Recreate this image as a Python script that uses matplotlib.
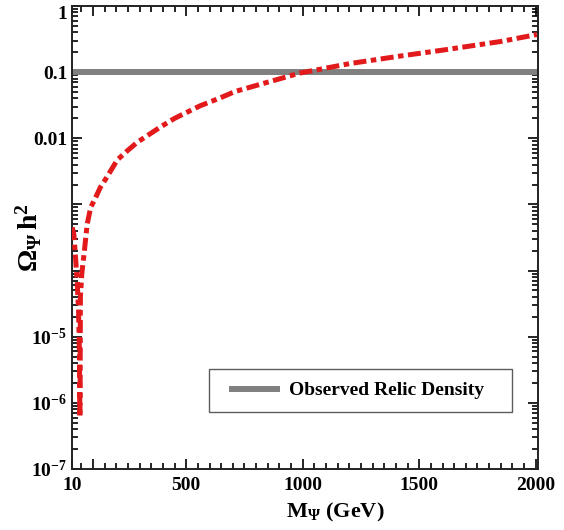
import numpy as np
import matplotlib.pyplot as plt
from matplotlib.ticker import FixedLocator, FixedFormatter, LogLocator, NullFormatter
from matplotlib.legend_handler import HandlerLine2D
from matplotlib.lines import Line2D

plt.rcParams['font.family'] = 'Liberation Serif'
plt.rcParams['font.weight'] = 'bold'
plt.rcParams['mathtext.fontset'] = 'custom'
plt.rcParams['mathtext.rm'] = 'Liberation Serif:bold'
plt.rcParams['mathtext.it'] = 'Liberation Serif:bold'
plt.rcParams['mathtext.bf'] = 'Liberation Serif:bold'

# relic density vs dark matter mass
mass = [11, 18, 25, 32, 38, 42, 43.5, 44.5, 46, 52, 61, 75, 90, 111, 131, 160, 204,
        250, 290, 388, 450, 530, 560, 640, 710, 847, 989, 1204, 1418, 1600, 1848, 2005]
omega = [4.5e-4, 3.5e-4, 1.6e-4, 7e-5, 2.5e-5, 5e-6, 6e-7, 1e-6, 4e-5, 9e-5, 1.7e-4,
         5e-4, 9e-4, 1.26e-3, 1.8e-3, 2.6e-3, 4.7e-3, 6.6e-3, 8.7e-3, 0.0147, 0.02,
         0.0275, 0.031, 0.04, 0.051, 0.07, 0.097, 0.135, 0.175, 0.215, 0.29, 0.37]
observed = 0.1

xticks = [10, 100, 500, 1000, 1500, 2000]
xlabels = ['10', '', '500', '1000', '1500', '2000']
yticks = [1e-7, 1e-6, 1e-5, 1e-4, 1e-3, 1e-2, 1e-1, 1]
ylabels = [r'$10^{-7}$', r'$10^{-6}$', r'$10^{-5}$', '', '', '0.01', '0.1', '1']

fig = plt.figure(figsize=(5.64, 5.30), dpi=100)
ax = fig.add_axes([0.1277, 0.1151, 0.8263, 0.8736])

ax.axhline(observed, color='#808080', lw=4.3, label='Observed Relic Density', zorder=2)
line, = ax.plot(mass, omega, color='#e31a1c', lw=3.6, zorder=3)
line.set_dashes((2.6, 0.9, 1.1, 0.9))

ax.set_yscale('log')
ax.set_xlim(10, 2010)
ax.set_ylim(1e-7, 1)

ax.xaxis.set_major_locator(FixedLocator(xticks))
ax.xaxis.set_major_formatter(FixedFormatter(xlabels))
ax.xaxis.set_minor_locator(FixedLocator(np.arange(50, 2010, 50)))
ax.yaxis.set_major_locator(FixedLocator(yticks))
ax.yaxis.set_major_formatter(FixedFormatter(ylabels))
ax.yaxis.set_minor_locator(LogLocator(base=10, subs=np.arange(2, 10), numticks=20))
ax.yaxis.set_minor_formatter(NullFormatter())

ax.tick_params(which='both', direction='in', top=True, right=True, labelsize=14, width=1.2)
ax.tick_params(which='major', length=7)
ax.tick_params(which='minor', length=4)
ax.tick_params(axis='x', which='major', pad=6)
for s in ax.spines.values():
    s.set_linewidth(1.4)
    s.set_color('#222222')

# top label "1" sits just below the top edge
ax.get_yticklabels()[-1].set_va('top')

ax.set_xlabel(r'M$_{\Psi}$ (GeV)', fontsize=16, fontweight='bold')
ax.xaxis.set_label_coords(0.564, -0.07)
ax.set_ylabel(r'$\Omega_{\Psi}\,$h$^{2}$', fontsize=20, fontweight='bold')
ax.yaxis.set_label_coords(-0.06, 0.5)

leg = ax.legend(loc='lower left', bbox_to_anchor=(0.294, 0.123, 0.65, 0.095), mode='expand',
                borderaxespad=0, fancybox=False, edgecolor='#333333', fontsize=14,
                handlelength=2.84, handletextpad=0.64, borderpad=0.65,
                handler_map={Line2D: HandlerLine2D(xpad=0.52)})
leg.get_frame().set_linewidth(1.0)

fig.savefig('out.png', dpi=100)
